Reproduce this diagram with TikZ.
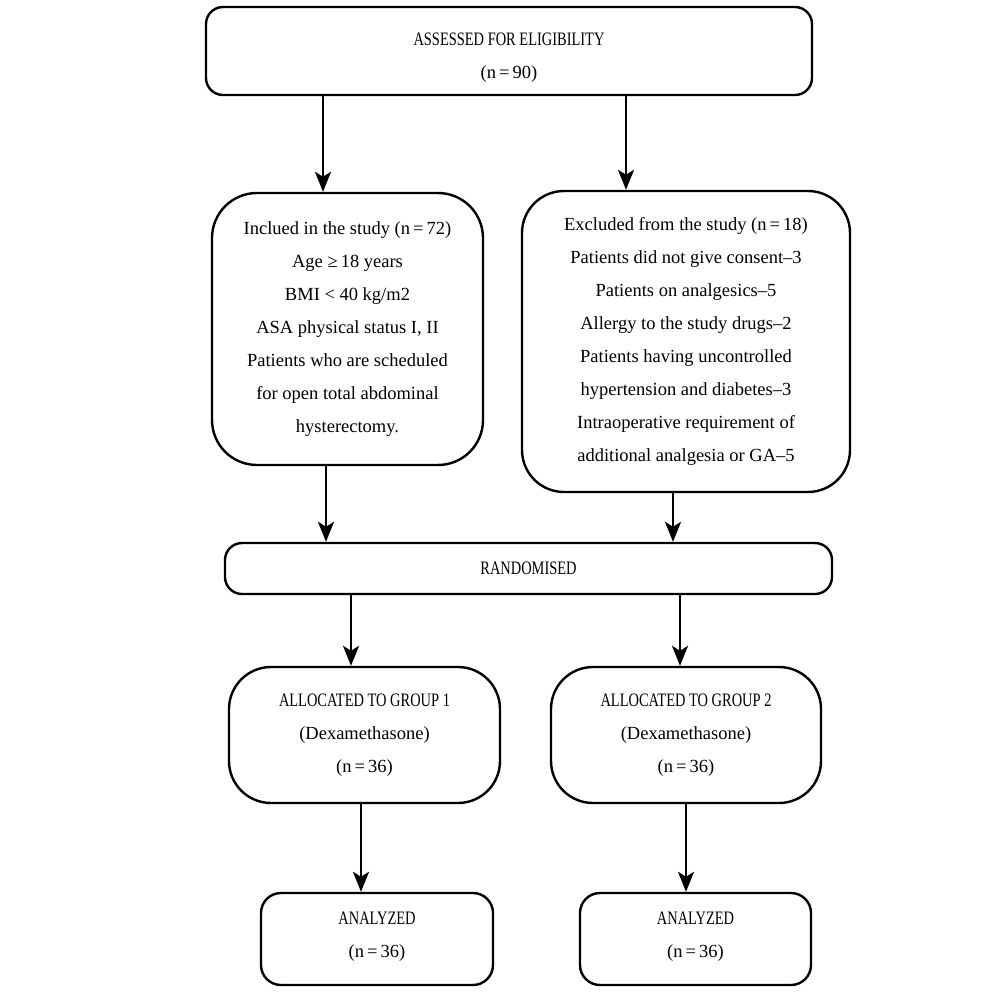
\documentclass[tikz,border=0pt]{standalone}
\usepackage{fontspec}
\setmainfont{Liberation Serif}
\usetikzlibrary{arrows.meta}
\newcommand{\capsline}[1]{{\fontsize{19}{20}\selectfont\scalebox{0.76}[1]{#1}}}
\begin{document}
\begin{tikzpicture}[x=1pt,y=-1pt,
  box/.style={draw, line width=2.4pt, inner sep=0pt, align=center,
    font=\fontsize{18.5}{33}\selectfont},
  arr/.style={line width=2.4pt, -{Stealth[length=20pt,width=16pt,inset=5pt]}}]
\useasboundingbox (0,0) rectangle (1000,995);

\node[box, minimum width=606pt, minimum height=88pt, rounded corners=17pt] (top) at (509,51)
  {\rule{0pt}{26pt}\capsline{ASSESSED FOR ELIGIBILITY}\\(n\,=\,90)};

\node[box, minimum width=271pt, minimum height=272pt, rounded corners=45pt] (inc) at (347.5,329)
  {Inclued in the study (n\,=\,72)\\ Age ≥\,18 years\\ BMI < 40 kg/m2\\ ASA physical status I, II\\
   Patients who are scheduled\\ for open total abdominal\\ hysterectomy.};

\node[box, minimum width=328pt, minimum height=301pt, rounded corners=42pt] (exc) at (686,341.5)
  {Excluded from the study (n\,=\,18)\\ Patients did not give consent--3\\ Patients on analgesics--5\\
   Allergy to the study drugs--2\\ Patients having uncontrolled\\ hypertension and diabetes--3\\
   Intraoperative requirement of\\ additional analgesia or GA--5};

\node[box, minimum width=607pt, minimum height=51pt, rounded corners=17pt] (rand) at (528.5,568.5)
  {\capsline{RANDOMISED}};

\node[box, minimum width=271pt, minimum height=136pt, rounded corners=42pt] (g1) at (364.5,735)
  {\capsline{ALLOCATED TO GROUP 1}\\ (Dexamethasone)\\ (n\,=\,36)};
\node[box, minimum width=270pt, minimum height=136pt, rounded corners=42pt] (g2) at (686,735)
  {\capsline{ALLOCATED TO GROUP 2}\\ (Dexamethasone)\\ (n\,=\,36)};

\node[box, minimum width=232pt, minimum height=92pt, rounded corners=20pt] (a1) at (377,939)
  {\capsline{ANALYZED}\\ (n\,=\,36)\rule[-8pt]{0pt}{8pt}};
\node[box, minimum width=231pt, minimum height=92pt, rounded corners=20pt] (a2) at (695.5,939)
  {\capsline{ANALYZED}\\ (n\,=\,36)\rule[-8pt]{0pt}{8pt}};

\draw[arr] (top.south -| 323,0) -- (inc.north -| 323,0);
\draw[arr] (top.south -| 626,0) -- (exc.north -| 626,0);
\draw[arr] (inc.south -| 326,0) -- (rand.north -| 326,0);
\draw[arr] (exc.south -| 673,0) -- (rand.north -| 673,0);
\draw[arr] (rand.south -| 351,0) -- (g1.north -| 351,0);
\draw[arr] (rand.south -| 680,0) -- (g2.north -| 680,0);
\draw[arr] (g1.south -| 361,0) -- (a1.north -| 361,0);
\draw[arr] (g2.south -| 686,0) -- (a2.north -| 686,0);
\end{tikzpicture}
\end{document}
